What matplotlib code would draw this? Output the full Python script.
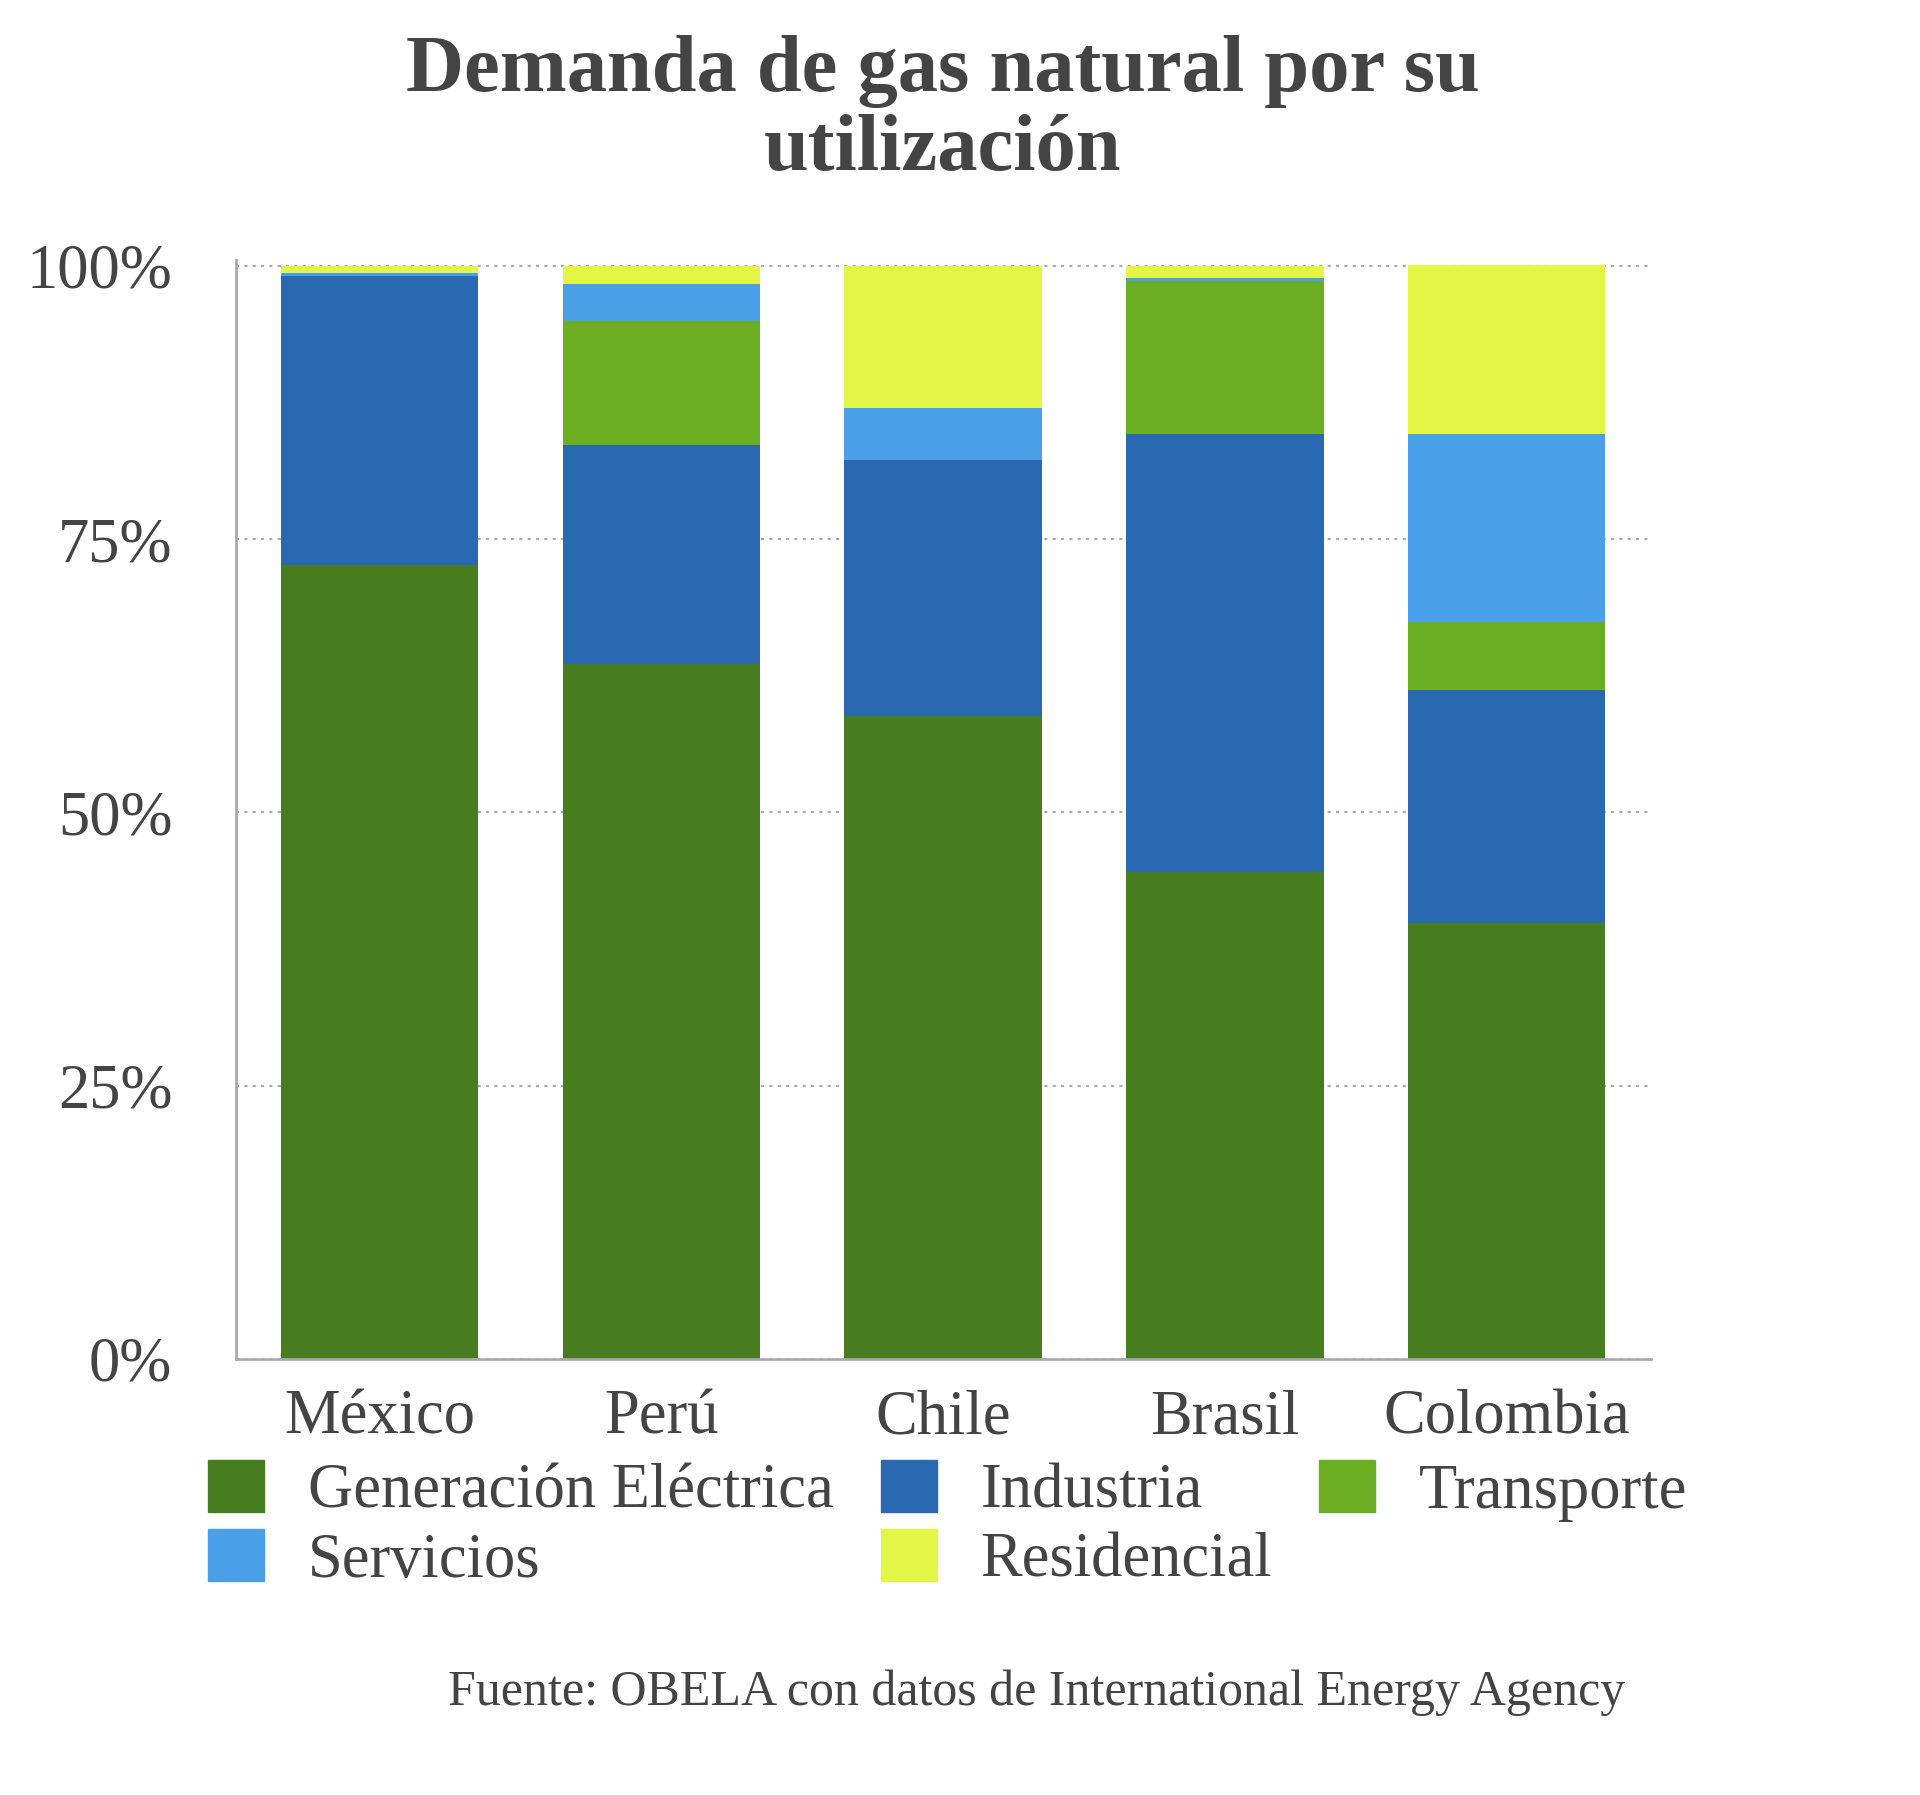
import numpy as np
import matplotlib.pyplot as plt
from matplotlib.patches import Patch

plt.rcParams['font.family'] = ['Liberation Serif', 'DejaVu Serif']

paises = ['México', 'Perú', 'Chile', 'Brasil', 'Colombia']
generacion  = [72.6, 63.6, 58.8, 44.5, 39.9]
industria   = [26.5, 20.0, 23.4, 40.1, 21.3]
transporte  = [0.0, 11.3, 0.0, 14.0, 6.2]
servicios   = [0.2, 3.4, 4.8, 0.3, 17.2]
residencial = [0.7, 1.7, 13.0, 1.1, 15.5]

series = [
	('Generación Eléctrica', generacion, '#477d1e'),
	('Industria', industria, '#2869b1'),
	('Transporte', transporte, '#6cae22'),
	('Servicios', servicios, '#4a9fe8'),
	('Residencial', residencial, '#e3f545'),
]

texto = '#444444'

fig = plt.figure(figsize=(19.2, 17.95), dpi=100)
ax = fig.add_axes([0.123, 0.243, 0.737, 0.612])

x = np.arange(len(paises))
base = np.zeros(len(paises))
for nombre, vals, color in series:
	ax.bar(x, vals, bottom=base, width=0.70, color=color, zorder=2)
	base += np.array(vals)

ax.set_xlim(-0.509, 4.513)
ax.set_ylim(0, 100.5)
ax.set_yticks([0, 25, 50, 75, 100])
ax.set_yticklabels(['0%', '25%', '50%', '75%', '100%'])
ax.set_xticks(x)
ax.set_xticklabels(paises)
ax.tick_params(axis='both', length=0, labelsize=45, colors=texto)
ax.tick_params(axis='y', pad=46)
ax.tick_params(axis='x', pad=22)
ax.yaxis.grid(True, linestyle=(0, (1.5, 2.5)), color='#aaaaaa', linewidth=1.5, zorder=0)
for s in ['top', 'right']:
	ax.spines[s].set_visible(False)
for s in ['left', 'bottom']:
	ax.spines[s].set_color('#aaaaaa')
	ax.spines[s].set_linewidth(2)

fig.text(0.491, 0.938, 'Demanda de gas natural por su\nutilización', ha='center', va='center',
	fontsize=58, fontweight='bold', color=texto, linespacing=1.1)

orden = [0, 3, 1, 4, 2]
handles = [Patch(color=series[i][2]) for i in orden]
labels = [series[i][0] for i in orden]
fig.legend(handles, labels, ncol=3, loc='upper left', bbox_to_anchor=(0.092, 0.204),
	frameon=False, fontsize=45, handlelength=0.9, handleheight=0.9, handletextpad=0.7,
	columnspacing=0.75, labelspacing=0.12, labelcolor=texto, borderpad=0)

fig.text(0.54, 0.057, 'Fuente: OBELA con datos de International Energy Agency', ha='center', va='center',
	fontsize=36, color=texto)

fig.savefig('out.png', dpi=100)
